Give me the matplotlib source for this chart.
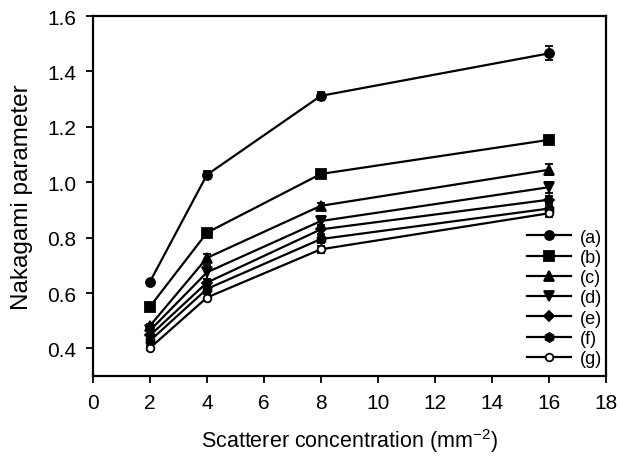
import numpy as np
from matplotlib import pyplot as plt
from matplotlib.lines import Line2D

plt.rcParams['font.family'] = ['Liberation Sans', 'DejaVu Sans']
plt.rcParams['mathtext.default'] = 'regular'

conc = [2, 4, 8, 16]
labels = ["(a)", "(b)", "(c)", "(d)", "(e)", "(f)", "(g)"]
vals = [
    [0.641, 1.027, 1.312, 1.465],
    [0.551, 0.818, 1.030, 1.153],
    [0.482, 0.727, 0.915, 1.045],
    [0.465, 0.675, 0.860, 0.982],
    [0.447, 0.638, 0.830, 0.937],
    [0.428, 0.615, 0.795, 0.905],
    [0.402, 0.584, 0.758, 0.888],
]
errs = [
    [0.008, 0.015, 0.015, 0.025],
    [0.008, 0.012, 0.015, 0.008],
    [0.008, 0.015, 0.010, 0.020],
    [0.008, 0.025, 0.020, 0.020],
    [0.008, 0.012, 0.015, 0.012],
    [0.008, 0.012, 0.015, 0.012],
    [0.008, 0.012, 0.012, 0.015],
]
markers = ['o', 's', '^', 'v', 'D', 'h', 'o']
sizes = [6.5, 6.5, 6.5, 6.5, 5.5, 6.5, 5.5]

fig = plt.figure(figsize=(6.2, 4.6), dpi=100)
ax = fig.add_axes([0.15, 0.18, 0.827, 0.783])

handles = []
for i in range(len(labels)):
    face = 'white' if i == 6 else 'black'
    ax.errorbar(conc, vals[i], yerr=errs[i], color='black', lw=1.6,
                marker=markers[i], ms=sizes[i], mfc=face, mec='black', mew=1.3,
                capsize=3, elinewidth=1.1, capthick=1.1)
    handles.append(Line2D([], [], color='black', lw=1.6, marker=markers[i],
                          ms=sizes[i], mfc=face, mec='black', mew=1.3))

ax.set_xlim(0, 18)
ax.set_ylim(0.3, 1.6)
ax.set_xticks(np.arange(0, 19, 2))
ax.set_yticks([0.4, 0.6, 0.8, 1.0, 1.2, 1.4, 1.6])
ax.set_yticklabels(["0.4", "0.6", "0.8", "1.0", "1.2", "1.4", "1.6"])
ax.tick_params(direction='out', length=5, width=1.3, labelsize=15, pad=7)
for s in ax.spines.values():
    s.set_linewidth(1.6)

ax.set_xlabel("Scatterer concentration (mm$^{-2}$)", fontsize=15.5, labelpad=10)
ax.set_ylabel("Nakagami parameter", fontsize=17.5, labelpad=10)

ax.legend(handles, labels, loc='lower right', frameon=False, fontsize=13,
          handlelength=2.4, labelspacing=0.18, handletextpad=0.5,
          borderaxespad=0.1, bbox_to_anchor=(1.01, 0.0))

fig.savefig("out.png", dpi=100)
